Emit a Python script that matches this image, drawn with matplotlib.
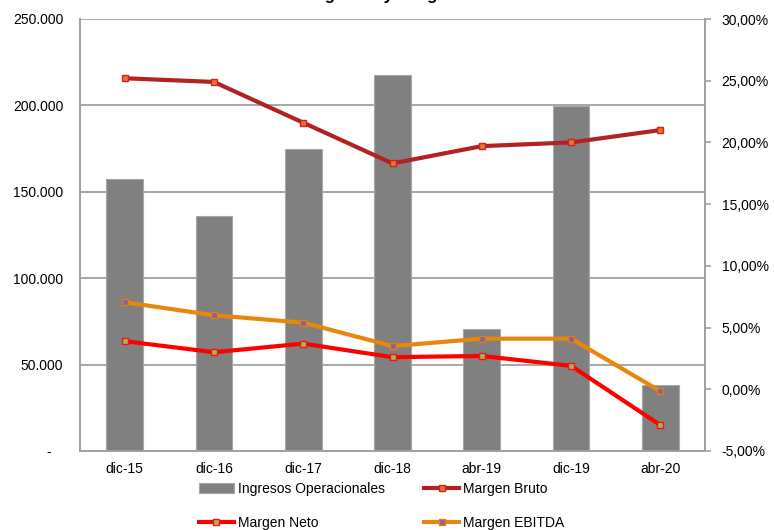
import matplotlib
matplotlib.use("Agg")
import matplotlib.pyplot as plt
from matplotlib.ticker import FuncFormatter, MultipleLocator
from matplotlib.lines import Line2D
from matplotlib.patches import Patch

plt.rcParams['font.family'] = ['Liberation Sans', 'DejaVu Sans']

categories = ['dic-15', 'dic-16', 'dic-17', 'dic-18', 'abr-19', 'dic-19', 'abr-20']
ingresos = [157400, 136200, 174800, 217400, 70400, 199800, 38400]
margen_bruto = [25.2, 24.9, 21.6, 18.3, 19.7, 20.0, 21.0]
margen_neto = [3.9, 3.0, 3.7, 2.6, 2.7, 1.9, -2.9]
margen_ebitda = [7.05, 6.0, 5.4, 3.5, 4.1, 4.1, -0.15]

W, H = 774, 530
fig = plt.figure(figsize=(W / 100, H / 100), dpi=100)
ax = fig.add_axes([80 / W, 1 - 451 / H, (705 - 80) / W, (451 - 19) / H])
ax2 = ax.twinx()

x = list(range(len(categories)))
ax.bar(x, ingresos, width=0.41, color='#808080', edgecolor='#a8a8a8', linewidth=0.8, zorder=2)
ax.set_xlim(-0.5, len(categories) - 0.5)
ax.set_ylim(0, 250000)
ax.yaxis.set_major_locator(MultipleLocator(50000))
ax.grid(axis='y', color='#a0a0a0', linewidth=1.3)
ax.set_axisbelow(True)

def left_fmt(v, pos):
    if abs(v) < 1e-9:
        return '-   '
    return f'{v:,.0f}'.replace(',', '.')

ax.yaxis.set_major_formatter(FuncFormatter(left_fmt))
ax.set_xticks(x)
ax.set_xticklabels(categories)
ax.tick_params(axis='x', length=0, pad=8, labelsize=10)
ax.tick_params(axis='y', length=0, pad=12, labelsize=10)

for s in ['top']:
    ax.spines[s].set_visible(False)
    ax2.spines[s].set_visible(False)
for s in ['left', 'right', 'bottom']:
    ax.spines[s].set_color('#a0a0a0')
    ax2.spines[s].set_color('#a0a0a0')
    ax.spines[s].set_linewidth(1.2)
    ax2.spines[s].set_linewidth(1.2)

lw = 3.0
ms = 4
ax2.plot(x, margen_bruto, color='#b22222', linewidth=lw, marker='s', markersize=ms,
         markerfacecolor='#e8762c', markeredgecolor='#d42020', markeredgewidth=1, zorder=3)
ax2.plot(x, margen_ebitda, color='#e8870c', linewidth=lw, marker='s', markersize=ms,
         markerfacecolor='#8064a2', markeredgecolor='#e87a10', markeredgewidth=1, zorder=3)
ax2.plot(x, margen_neto, color='#ff0000', linewidth=lw, marker='s', markersize=ms,
         markerfacecolor='#9bbb59', markeredgecolor='#ff1010', markeredgewidth=1, zorder=4)
ax2.set_ylim(-5, 30)
ax2.yaxis.set_major_locator(MultipleLocator(5))
ax2.yaxis.set_major_formatter(FuncFormatter(lambda v, p: f'{v:.2f}%'.replace('.', ',')))
ax2.tick_params(axis='y', direction='out', length=4, width=1.2, color='#a0a0a0', pad=8, labelsize=10)

fig.text(0.507, 1.0, 'Ingresos y Margenes', ha='center', va='baseline', fontsize=12, fontweight='bold')

handles = [
    Patch(facecolor='#808080', edgecolor='#a8a8a8', linewidth=0.8),
    Line2D([0], [0], color='#ff0000', linewidth=lw, marker='s', markersize=ms,
           markerfacecolor='#9bbb59', markeredgecolor='#ff1010'),
    Line2D([0], [0], color='#b22222', linewidth=lw, marker='s', markersize=ms,
           markerfacecolor='#e8762c', markeredgecolor='#d42020'),
    Line2D([0], [0], color='#e8870c', linewidth=lw, marker='s', markersize=ms,
           markerfacecolor='#8064a2', markeredgecolor='#e87a10'),
]
labels = ['Ingresos Operacionales', 'Margen Neto', 'Margen Bruto', 'Margen EBITDA']
fig.legend(handles, labels, ncol=2, loc='upper left', bbox_to_anchor=(199 / W, 1 - 482 / H),
           frameon=False, borderpad=0, borderaxespad=0, handlelength=2.5, handletextpad=0.3,
           columnspacing=2.85, labelspacing=1.45, fontsize=10, handleheight=0.7)

fig.savefig('out.png', dpi=100)
